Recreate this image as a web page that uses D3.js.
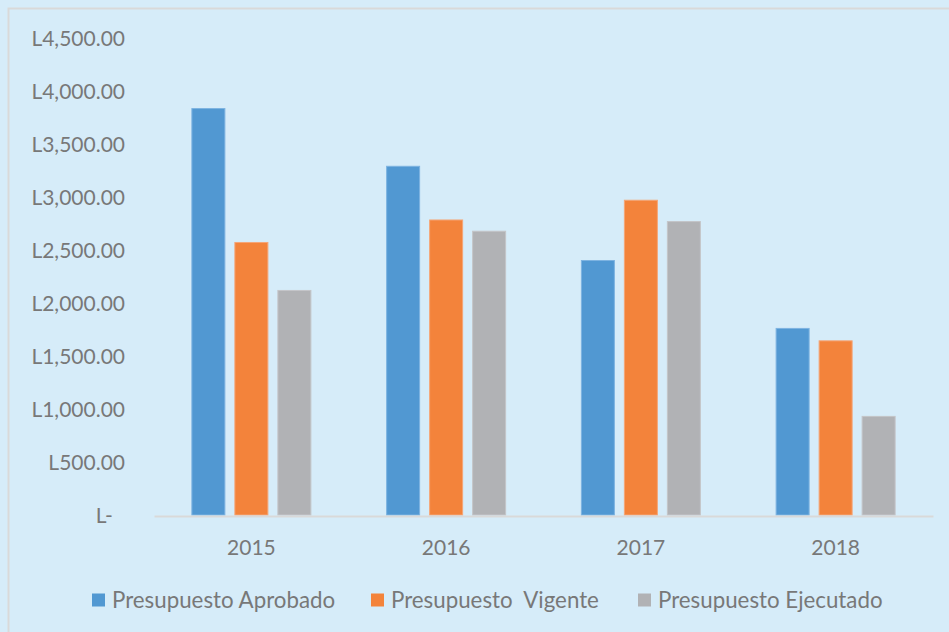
<!DOCTYPE html>
<html>
<head>
<meta charset="utf-8">
<script src="https://cdn.jsdelivr.net/npm/d3@7"></script>
<style>
  html, body { margin: 0; padding: 0; background: #D6ECF9; }
  svg { display: block; }
  text { font-family: Lato, "Liberation Sans", sans-serif; fill: #787878; }
</style>
</head>
<body>
<svg id="chart" width="949" height="632"></svg>
<script>
const years = ["2015", "2016", "2017", "2018"];
const seriesNames = ["Presupuesto Aprobado", "Presupuesto  Vigente", "Presupuesto Ejecutado"];
const aprobado = [3835, 3291, 2403, 1763];
const vigente = [2573, 2785, 2971, 1646];
const ejecutado = [2121, 2679, 2770, 934];
const tickValues = [0, 500, 1000, 1500, 2000, 2500, 3000, 3500, 4000, 4500];
const colors = ["#5198D2", "#F3833B", "#B1B2B5"];
const strokes = ["#7DB3E1", "#F5A576", "#C4C5C8"];

const seriesData = [aprobado, vigente, ejecutado];

const svg = d3.select("#chart");
const W = 949, H = 632;

// frame border
svg.append("path")
  .attr("d", `M8.5,${H} L8.5,8.5 L${W},8.5`)
  .attr("fill", "none")
  .attr("stroke", "#D9D9D9")
  .attr("stroke-width", 2);

const x0 = d3.scaleBand().domain(years).range([154, 933]).padding(0);
const groupW = 120;
const x1 = d3.scaleBand().domain(d3.range(3))
  .range([0, groupW]).paddingInner(9 / 43).paddingOuter(0);
const y = d3.scaleLinear().domain([0, 4500]).range([515, 37.5]);

const fmt = d3.format(",.2f");

// y axis labels
const yAxis = d3.axisLeft(y).tickValues(tickValues).tickSize(0).tickPadding(0)
  .tickFormat(d => d === 0 ? "L-\u2007" : "L" + fmt(d));
const gy = svg.append("g").attr("transform", "translate(125,0)").call(yAxis);
gy.select(".domain").remove();
gy.selectAll("text")
  .style("font-family", "Lato, 'Liberation Sans', sans-serif")
  .style("font-size", "21px")
  .style("white-space", "pre")
  .attr("fill", "#787878")
  .attr("dy", "0.36em");

// bars
const groups = svg.append("g").selectAll("g")
  .data(years)
  .join("g")
  .attr("transform", d => `translate(${x0(d) + (x0.bandwidth() - groupW) / 2},0)`);

groups.selectAll("rect")
  .data((d, i) => seriesData.map((s, k) => ({ k, v: s[i] })))
  .join("rect")
  .attr("x", d => x1(d.k) + 0.5)
  .attr("width", x1.bandwidth() - 1)
  .attr("y", d => y(d.v) + 0.5)
  .attr("height", d => y(0) - y(d.v) - 0.5)
  .attr("fill", d => colors[d.k])
  .attr("stroke", d => strokes[d.k])
  .attr("stroke-width", 1);

// x axis
const xAxis = d3.axisBottom(x0).tickSize(0).tickPadding(0);
const gx = svg.append("g").attr("transform", "translate(0,516)").call(xAxis);
gx.select(".domain")
  .attr("stroke", "#D9D9D9")
  .attr("stroke-width", 2);
gx.selectAll("text")
  .style("font-family", "Lato, 'Liberation Sans', sans-serif")
  .style("font-size", "21px")
  .attr("fill", "#787878")
  .attr("y", 31)
  .attr("dy", "0.36em");

// legend
const legendX = [92, 371, 638];
const lg = svg.append("g").selectAll("g")
  .data(seriesNames)
  .join("g")
  .attr("transform", (d, i) => `translate(${legendX[i]},600)`);
lg.append("rect")
  .attr("x", 0).attr("y", -6.5)
  .attr("width", 13).attr("height", 13)
  .attr("fill", (d, i) => colors[i]);
lg.append("text")
  .attr("x", 20)
  .attr("dy", "0.36em")
  .style("font-size", "22.3px")
  .style("white-space", "pre")
  .text(d => d);
</script>
</body>
</html>
